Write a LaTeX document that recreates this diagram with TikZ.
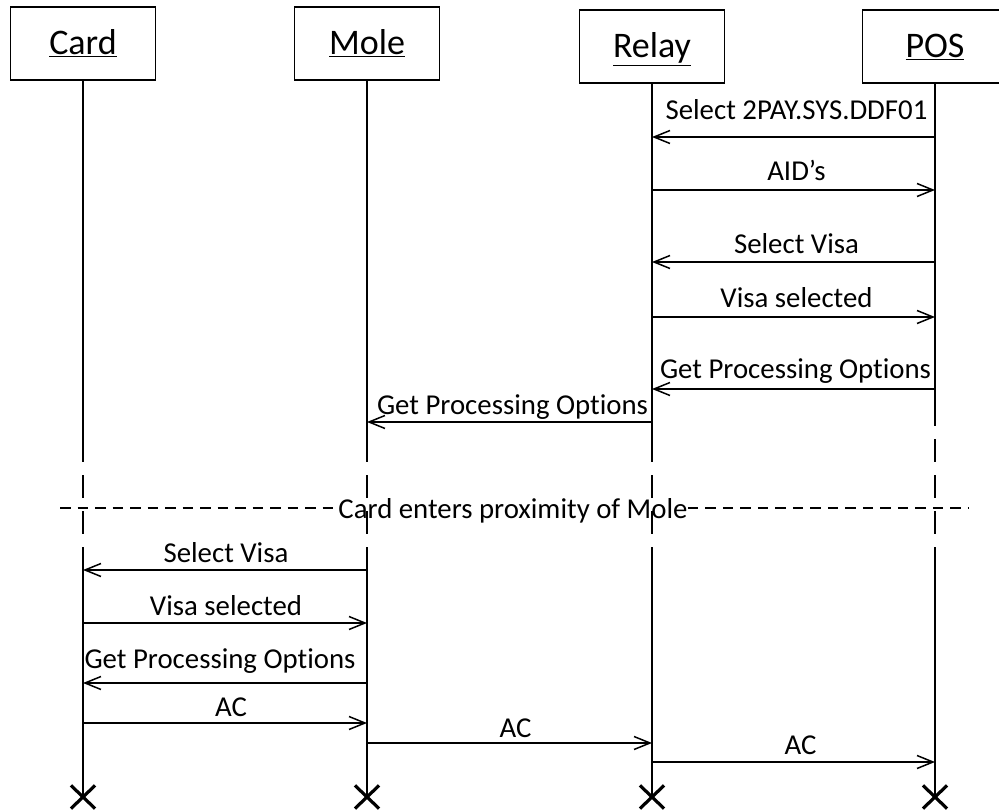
\documentclass[tikz,border=0pt]{standalone}
\usepackage{fontspec}
\setmainfont[Ligatures=NoCommon]{Carlito}
\usetikzlibrary{arrows.meta,shapes.misc}

\begin{document}
\begin{tikzpicture}[x=1pt,y=-1pt,
  actor/.style={draw,line width=1.6pt,minimum width=145pt,minimum height=73pt,
    inner sep=0pt,text height=26pt,text depth=3pt,font=\fontsize{36}{40}\selectfont},
  life/.style={line width=1.5pt},
  lifedash/.style={line width=1.5pt,dash pattern=on 23pt off 13pt,dash phase=23pt},
  sepdash/.style={line width=1.5pt,dash pattern=on 10.5pt off 7pt},
  msgline/.style={line width=1.7pt,-{Straight Barb[length=16pt,width=13pt,line width=1.5pt]}},
  msg/.style={font=\fontsize{28.8}{32}\selectfont,anchor=base,inner sep=0pt},
  endmark/.style={cross out,draw,line width=3.2pt,minimum width=21pt,minimum height=20pt,inner sep=0pt},
]
\useasboundingbox (0,0) rectangle (999,810);

% participants
\node[actor] (card)  at (83,43.5)  {\underline{Card}};
\node[actor] (mole)  at (367,43.5) {\underline{Mole}};
\node[actor] (relay) at (652,46.5) {\underline{Relay}};
\node[actor] (pos)   at (935,46.5) {\underline{POS}};

% end of lifelines
\node[endmark] (cardX)  at (83,797)  {};
\node[endmark] (moleX)  at (367,797) {};
\node[endmark] (relayX) at (652,797) {};
\node[endmark] (posX)   at (935,797) {};

% where each lifeline turns dashed and back again
\coordinate (cardA)  at (83,462);  \coordinate (cardB)  at (83,547);
\coordinate (moleA)  at (367,462); \coordinate (moleB)  at (367,547);
\coordinate (relayA) at (652,462); \coordinate (relayB) at (652,547);
\coordinate (posA)   at (935,426); \coordinate (posB)   at (935,555);

\foreach \p in {card,mole,relay,pos}{
  \draw[life] (\p.south) -- (\p A);
  \draw[lifedash] (\p A) -- (\p B);
  \draw[life] (\p B) -- (\p X.center);
}

% separator
\node[msg] (note) at (513,518) {Card enters proximity of Mole};
\coordinate (sepL) at (60,508);
\coordinate (sepR) at (968,508);
\draw[sepdash] (sepL) -- (sepL -| note.west);
\draw[sepdash] (sepR -| note.east) -- (sepR);

% message anchor points on the lifelines
\coordinate (p1) at (935,137); \coordinate (r1) at (652,137);
\coordinate (r2) at (652,190); \coordinate (p2) at (935,190);
\coordinate (p3) at (935,262); \coordinate (r3) at (652,262);
\coordinate (r4) at (652,317); \coordinate (p4) at (935,317);
\coordinate (p5) at (935,389); \coordinate (r5) at (652,389);
\coordinate (r6) at (652,422); \coordinate (m6) at (367,422);
\coordinate (m7) at (367,570); \coordinate (c7) at (83,570);
\coordinate (c8) at (83,623);  \coordinate (m8) at (367,623);
\coordinate (m9) at (367,683); \coordinate (c9) at (83,683);
\coordinate (c10) at (83,723); \coordinate (m10) at (367,723);
\coordinate (m11) at (367,743); \coordinate (r11) at (652,743);
\coordinate (r12) at (652,762); \coordinate (p12) at (935,762);

\draw[msgline] (p1) -- (r1) node[msg,midway,yshift=17pt,xshift=3pt] {Select 2PAY.SYS.DDF01};
\draw[msgline] (r2) -- (p2) node[msg,midway,yshift=9pt,xshift=3pt] {AID’s};
\draw[msgline] (p3) -- (r3) node[msg,midway,yshift=8pt,xshift=3pt] {Select Visa};
\draw[msgline] (r4) -- (p4) node[msg,midway,yshift=9pt,xshift=3pt] {Visa selected};
\draw[msgline] (p5) -- (r5) node[msg,midway,yshift=11pt,xshift=2pt] {Get Processing Options};
\draw[msgline] (r6) -- (m6) node[msg,midway,yshift=8pt,xshift=3pt] {Get Processing Options};
\draw[msgline] (m7) -- (c7) node[msg,midway,yshift=8pt,xshift=1pt] {Select Visa};
\draw[msgline] (c8) -- (m8) node[msg,midway,yshift=8pt,xshift=1pt] {Visa selected};
\draw[msgline] (m9) -- (c9) node[msg,midway,yshift=15pt,xshift=-5pt] {Get Processing Options};
\draw[msgline] (c10) -- (m10) node[msg,midway,yshift=7pt,xshift=6pt] {AC};
\draw[msgline] (m11) -- (r11) node[msg,midway,yshift=6pt,xshift=6pt] {AC};
\draw[msgline] (r12) -- (p12) node[msg,midway,yshift=8pt,xshift=7pt] {AC};
\end{tikzpicture}
\end{document}
